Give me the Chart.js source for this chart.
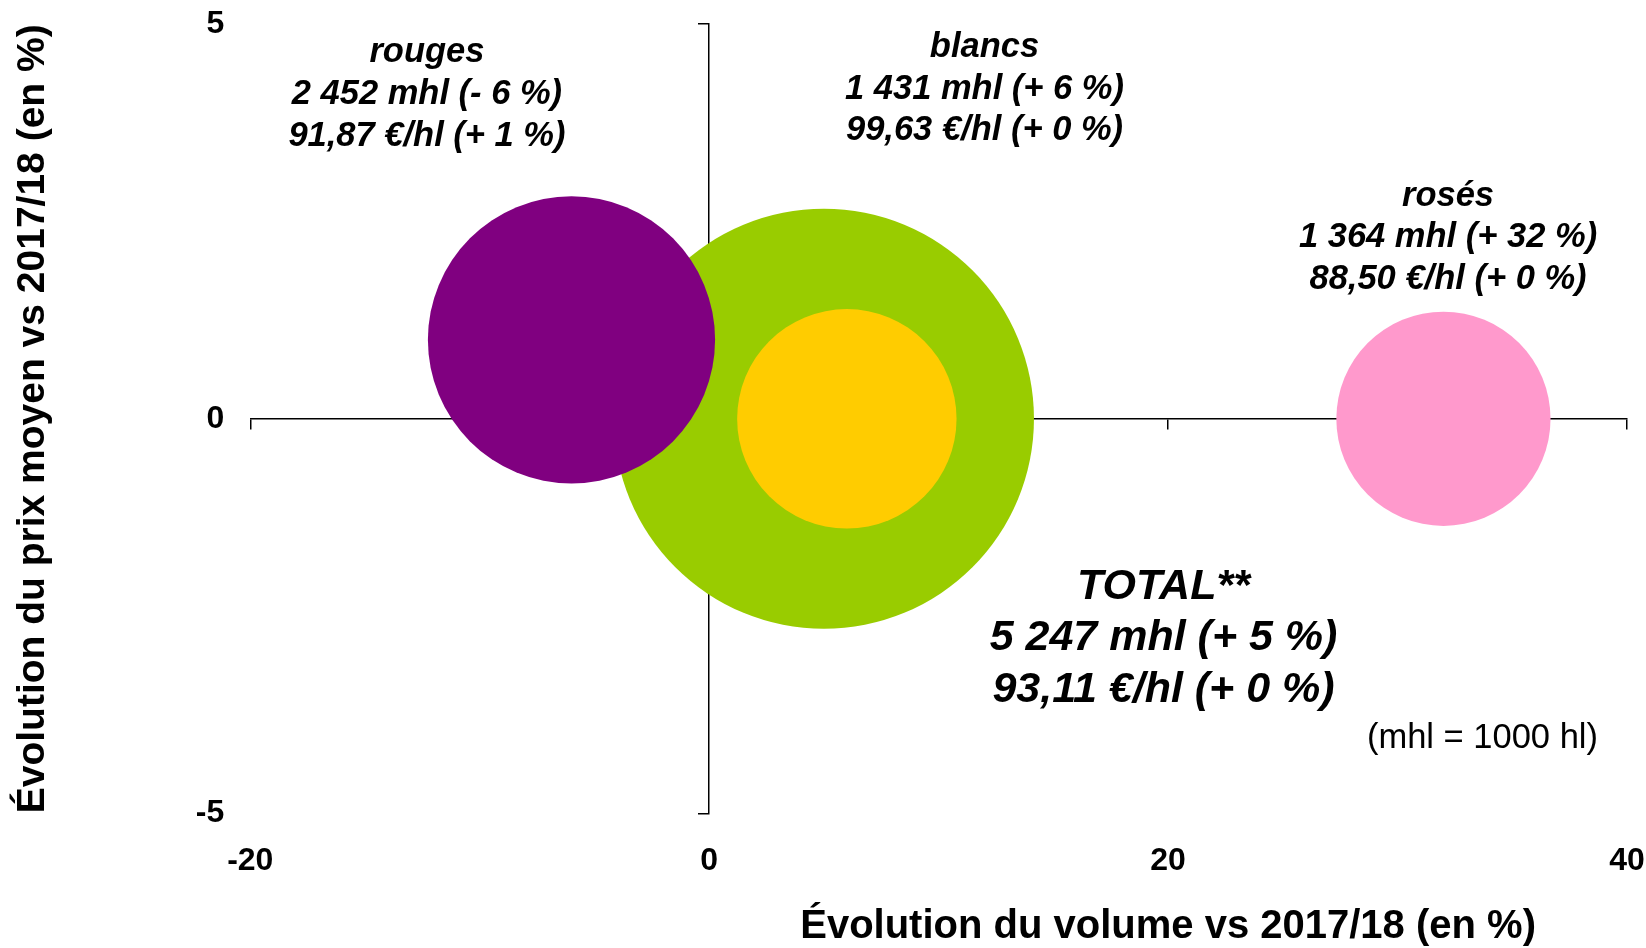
<!DOCTYPE html>
<html lang="fr">
<head>
<meta charset="utf-8">
<title>Évolution du volume et du prix moyen vs 2017/18</title>
<script src="https://cdn.jsdelivr.net/npm/chart.js@4.4.1/dist/chart.umd.min.js"></script>
<style>
  html, body { margin: 0; padding: 0; background: #fff; }
  #wrap { width: 1646px; height: 948px; }
</style>
</head>
<body>
<div id="wrap"><canvas id="chart"></canvas></div>
<script>
const categories = ['rouges', 'blancs', 'rosés', 'TOTAL**'];
const volumes = [2452, 1431, 1364, 5247];        // mhl
const volumeChange = [-6, 6, 32, 5];             // % vs 2017/18
const prices = [91.87, 99.63, 88.50, 93.11];     // €/hl
const priceChange = [1, 0, 0, 0];                // % vs 2017/18
const colors = ['#800080', '#ffcc00', '#ff99cc', '#99cc00'];

const xTicks = [-20, 0, 20, 40];
const yTicks = [-5, 0, 5];

const FONT = '"Liberation Sans", Arial, sans-serif';
Chart.defaults.font.family = FONT;
Chart.defaults.color = '#000';

// bubble area proportional to volume (px of radius per sqrt(mhl))
const BUBBLE_SCALE = 2.9;

const ctx = document.getElementById('chart').getContext('2d');

function fmtInt(n) {
  return String(n).replace(/\B(?=(\d{3})+(?!\d))/g, ' ');
}
function fmtPct(p) {
  return (p < 0 ? '- ' : '+ ') + Math.abs(p) + ' %';
}
function fmtPrice(p) {
  return p.toFixed(2).replace('.', ',');
}
function noteLines(i) {
  return [
    categories[i],
    `${fmtInt(volumes[i])} mhl (${fmtPct(volumeChange[i])})`,
    `${fmtPrice(prices[i])} €/hl (${fmtPct(priceChange[i])})`
  ];
}

const setTicks = list => scale => { scale.ticks = list.map(v => ({ value: v })); };
// end labels may hang over the plot edges, like in Excel
const noEdgePadding = scale => {
  scale.paddingTop = scale.paddingBottom = scale.paddingLeft = scale.paddingRight = 0;
};

// free text: bubble notes, unit note, and the x title (sits under the right half)
const bubbleNotes = {
  id: 'bubbleNotes',
  afterDatasetsDraw(chart, args, opts) {
    const { ctx, scales: { x, y } } = chart;
    ctx.save();
    ctx.fillStyle = '#000';
    ctx.textAlign = 'center';
    ctx.textBaseline = 'middle';
    opts.blocks.forEach(b => {
      ctx.font = b.font;
      const px = x.getPixelForValue(b.x);
      const py = y.getPixelForValue(b.y);
      b.lines.forEach((line, k) => ctx.fillText(line, px, py + k * b.lineHeight));
    });
    ctx.font = opts.xTitle.font;
    ctx.fillText(opts.xTitle.text, x.getPixelForValue(opts.xTitle.x), chart.height - opts.xTitle.fromBottom);
    ctx.restore();
  }
};

const small = `italic bold 34.5px ${FONT}`;
const big = `italic bold 43px ${FONT}`;

const config = {
  type: 'bubble',
  data: {
    datasets: categories.map((name, i) => ({
      label: name,
      data: [{ x: volumeChange[i], y: priceChange[i], r: BUBBLE_SCALE * Math.sqrt(volumes[i]) }],
      backgroundColor: colors[i],
      borderWidth: 0,
      order: volumes[i],   // big bubbles behind
      xAxisID: 'x',
      yAxisID: 'y'
    }))
  },
  options: {
    responsive: true,
    maintainAspectRatio: false,
    animation: false,
    events: [],
    layout: { autoPadding: false, padding: { top: 24, right: 19, bottom: 40, left: 0 } },
    plugins: {
      legend: { display: false },
      tooltip: { enabled: false },
      bubbleNotes: {
        blocks: [
          { lines: noteLines(0), x: -12.3, y: 4.64, font: small, lineHeight: 42 },
          { lines: noteLines(1), x: 12.0, y: 4.70, font: small, lineHeight: 41.5 },
          { lines: noteLines(2), x: 32.2, y: 2.82, font: small, lineHeight: 41.5 },
          { lines: noteLines(3), x: 19.8, y: -2.13, font: big, lineHeight: 51.5 },
          { lines: ['(mhl = 1000 hl)'], x: 33.7, y: -4.05, font: `34.5px ${FONT}`, lineHeight: 0 }
        ],
        xTitle: { text: 'Évolution du volume vs 2017/18 (en %)', x: 20, fromBottom: 21, font: `bold 40px ${FONT}` }
      }
    },
    scales: {
      x: {
        type: 'linear',
        position: 'bottom',
        min: -20,
        max: 40,
        afterBuildTicks: setTicks(xTicks),
        afterFit: noEdgePadding,
        grid: { display: false, drawTicks: false },
        border: { display: false },
        ticks: { color: '#000', padding: 28, font: { size: 32, weight: 'bold' }, callback: v => String(v) }
      },
      y: {
        type: 'linear',
        position: 'left',
        min: -5,
        max: 5,
        afterBuildTicks: setTicks(yTicks),
        afterFit: noEdgePadding,
        grid: { display: false, drawTicks: false },
        border: { display: false },
        ticks: { color: '#000', padding: 26, font: { size: 32, weight: 'bold' }, callback: v => String(v) },
        title: {
          display: true,
          text: 'Évolution du prix moyen vs 2017/18 (en %)',
          color: '#000',
          font: { size: 39, weight: 'bold' },
          padding: { top: 10, bottom: 113 }
        }
      },
      // axes crossing at zero
      x0: {
        type: 'linear',
        axis: 'x',
        position: { y: 0 },
        min: -20,
        max: 40,
        afterBuildTicks: setTicks(xTicks),
        ticks: { display: false },
        grid: { drawOnChartArea: false, tickLength: 10, color: '#000', lineWidth: 1.5 },
        border: { color: '#000', width: 1.5 }
      },
      y0: {
        type: 'linear',
        axis: 'y',
        position: { x: 0 },
        min: -5,
        max: 5,
        afterBuildTicks: setTicks(yTicks),
        ticks: { display: false },
        grid: { drawOnChartArea: false, tickLength: 10, color: '#000', lineWidth: 1.5 },
        border: { color: '#000', width: 1.5 }
      }
    }
  },
  plugins: [bubbleNotes]
};

const chart = new Chart(ctx, config);
</script>
</body>
</html>
